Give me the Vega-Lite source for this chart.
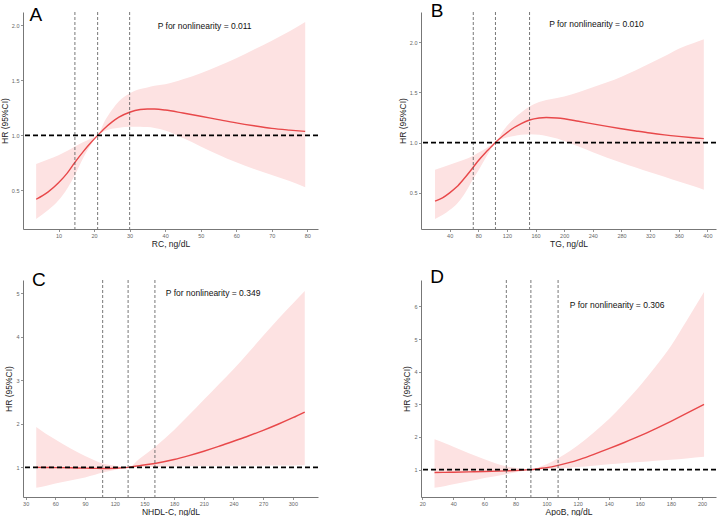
{
  "$schema": "https://vega.github.io/schema/vega-lite/v6.json",
  "padding": {"left": 0, "top": 2, "right": 0, "bottom": 0},
  "background": "white",
  "columns": 2,
  "spacing": {"row": 51, "column": 103},
  "bounds": "flush",
  "datasets": {
    "A": [
      {"x": 3.7, "hr": 0.42, "lo": 0.24, "hi": 0.74},
      {"x": 7, "hr": 0.485, "lo": 0.32, "hi": 0.78},
      {"x": 10, "hr": 0.57, "lo": 0.41, "hi": 0.82},
      {"x": 12.5, "hr": 0.66, "lo": 0.52, "hi": 0.86},
      {"x": 14.6, "hr": 0.755, "lo": 0.64, "hi": 0.9},
      {"x": 17, "hr": 0.855, "lo": 0.8, "hi": 0.94},
      {"x": 19, "hr": 0.93, "lo": 0.91, "hi": 0.97},
      {"x": 21, "hr": 1.0, "lo": 1.0, "hi": 1.0},
      {"x": 23, "hr": 1.065, "lo": 1.04, "hi": 1.13},
      {"x": 25, "hr": 1.12, "lo": 1.06, "hi": 1.23},
      {"x": 27, "hr": 1.165, "lo": 1.07, "hi": 1.31},
      {"x": 30, "hr": 1.21, "lo": 1.078, "hi": 1.38},
      {"x": 33, "hr": 1.235, "lo": 1.079, "hi": 1.42},
      {"x": 35, "hr": 1.24, "lo": 1.075, "hi": 1.435},
      {"x": 37, "hr": 1.239, "lo": 1.068, "hi": 1.45},
      {"x": 40, "hr": 1.23, "lo": 1.045, "hi": 1.465},
      {"x": 45, "hr": 1.203, "lo": 0.975, "hi": 1.51},
      {"x": 50, "hr": 1.174, "lo": 0.9, "hi": 1.565},
      {"x": 55, "hr": 1.143, "lo": 0.825, "hi": 1.63},
      {"x": 60, "hr": 1.113, "lo": 0.755, "hi": 1.7},
      {"x": 65, "hr": 1.087, "lo": 0.695, "hi": 1.78},
      {"x": 70, "hr": 1.064, "lo": 0.64, "hi": 1.86},
      {"x": 75, "hr": 1.048, "lo": 0.585, "hi": 1.945},
      {"x": 79.4, "hr": 1.036, "lo": 0.53, "hi": 2.03}
    ],
    "B": [
      {"x": 19.6, "hr": 0.417, "lo": 0.24, "hi": 0.73},
      {"x": 30, "hr": 0.45, "lo": 0.28, "hi": 0.755},
      {"x": 40, "hr": 0.5, "lo": 0.33, "hi": 0.78},
      {"x": 50, "hr": 0.56, "lo": 0.39, "hi": 0.805},
      {"x": 60, "hr": 0.64, "lo": 0.48, "hi": 0.83},
      {"x": 73, "hr": 0.755, "lo": 0.64, "hi": 0.87},
      {"x": 80, "hr": 0.82, "lo": 0.72, "hi": 0.9},
      {"x": 90, "hr": 0.9, "lo": 0.845, "hi": 0.94},
      {"x": 97, "hr": 0.95, "lo": 0.93, "hi": 0.97},
      {"x": 103.9, "hr": 1.0, "lo": 1.0, "hi": 1.0},
      {"x": 115, "hr": 1.07, "lo": 1.04, "hi": 1.12},
      {"x": 130, "hr": 1.15, "lo": 1.065, "hi": 1.24},
      {"x": 140, "hr": 1.19, "lo": 1.078, "hi": 1.3},
      {"x": 151.6, "hr": 1.225, "lo": 1.083, "hi": 1.36},
      {"x": 165, "hr": 1.245, "lo": 1.077, "hi": 1.405},
      {"x": 175, "hr": 1.25, "lo": 1.066, "hi": 1.425},
      {"x": 190, "hr": 1.245, "lo": 1.04, "hi": 1.445},
      {"x": 200, "hr": 1.237, "lo": 1.015, "hi": 1.46},
      {"x": 220, "hr": 1.212, "lo": 0.96, "hi": 1.5},
      {"x": 240, "hr": 1.186, "lo": 0.905, "hi": 1.55},
      {"x": 260, "hr": 1.161, "lo": 0.85, "hi": 1.6},
      {"x": 280, "hr": 1.138, "lo": 0.8, "hi": 1.656},
      {"x": 300, "hr": 1.116, "lo": 0.752, "hi": 1.72},
      {"x": 320, "hr": 1.095, "lo": 0.705, "hi": 1.79},
      {"x": 340, "hr": 1.077, "lo": 0.66, "hi": 1.86},
      {"x": 360, "hr": 1.062, "lo": 0.612, "hi": 1.935},
      {"x": 380, "hr": 1.049, "lo": 0.567, "hi": 1.99},
      {"x": 395, "hr": 1.04, "lo": 0.53, "hi": 2.03}
    ],
    "C": [
      {"x": 40.7, "hr": 1.0, "lo": 0.53, "hi": 1.925},
      {"x": 50, "hr": 0.998, "lo": 0.575, "hi": 1.78},
      {"x": 60, "hr": 0.995, "lo": 0.63, "hi": 1.64},
      {"x": 75, "hr": 0.99, "lo": 0.7, "hi": 1.44},
      {"x": 90, "hr": 0.982, "lo": 0.77, "hi": 1.26},
      {"x": 100, "hr": 0.978, "lo": 0.83, "hi": 1.16},
      {"x": 107.8, "hr": 0.975, "lo": 0.88, "hi": 1.09},
      {"x": 120, "hr": 0.98, "lo": 0.94, "hi": 1.04},
      {"x": 133.5, "hr": 1.0, "lo": 1.0, "hi": 1.0},
      {"x": 145, "hr": 1.04, "lo": 1.005, "hi": 1.2},
      {"x": 160.6, "hr": 1.09, "lo": 1.01, "hi": 1.47},
      {"x": 180, "hr": 1.18, "lo": 1.02, "hi": 1.86},
      {"x": 195, "hr": 1.27, "lo": 1.025, "hi": 2.2},
      {"x": 210, "hr": 1.37, "lo": 1.03, "hi": 2.55},
      {"x": 225, "hr": 1.48, "lo": 1.032, "hi": 2.9},
      {"x": 240, "hr": 1.6, "lo": 1.035, "hi": 3.25},
      {"x": 255, "hr": 1.72, "lo": 1.038, "hi": 3.63},
      {"x": 270, "hr": 1.85, "lo": 1.04, "hi": 4.02},
      {"x": 285, "hr": 1.99, "lo": 1.043, "hi": 4.4},
      {"x": 300, "hr": 2.14, "lo": 1.045, "hi": 4.76},
      {"x": 312, "hr": 2.27, "lo": 1.05, "hi": 5.05}
    ],
    "D": [
      {"x": 27.9, "hr": 0.91, "lo": 0.44, "hi": 1.93},
      {"x": 35, "hr": 0.915, "lo": 0.5, "hi": 1.8},
      {"x": 40, "hr": 0.92, "lo": 0.55, "hi": 1.7},
      {"x": 50, "hr": 0.93, "lo": 0.64, "hi": 1.5},
      {"x": 60, "hr": 0.94, "lo": 0.74, "hi": 1.32},
      {"x": 74, "hr": 0.96, "lo": 0.86, "hi": 1.1},
      {"x": 82, "hr": 0.975, "lo": 0.93, "hi": 1.04},
      {"x": 89.9, "hr": 1.0, "lo": 1.0, "hi": 1.0},
      {"x": 95, "hr": 1.03, "lo": 1.005, "hi": 1.07},
      {"x": 100, "hr": 1.06, "lo": 1.01, "hi": 1.16},
      {"x": 107.4, "hr": 1.13, "lo": 1.03, "hi": 1.35},
      {"x": 115, "hr": 1.22, "lo": 1.06, "hi": 1.57},
      {"x": 120, "hr": 1.29, "lo": 1.08, "hi": 1.74},
      {"x": 130, "hr": 1.46, "lo": 1.12, "hi": 2.12},
      {"x": 140, "hr": 1.64, "lo": 1.16, "hi": 2.54},
      {"x": 150, "hr": 1.83, "lo": 1.2, "hi": 3.03},
      {"x": 160, "hr": 2.03, "lo": 1.23, "hi": 3.56},
      {"x": 170, "hr": 2.25, "lo": 1.27, "hi": 4.15},
      {"x": 180, "hr": 2.48, "lo": 1.3, "hi": 4.79},
      {"x": 190, "hr": 2.72, "lo": 1.34, "hi": 5.55},
      {"x": 201.3, "hr": 3.0, "lo": 1.39, "hi": 6.44}
    ]
  },
  "concat": [
    {
      "width": 295, "height": 217,
      "data": {"name": "A"},
      "layer": [
        {"mark": {"type": "area", "color": "#fde2e2", "opacity": 1, "interpolate": "monotone"},
         "encoding": {
           "x": {"field": "x", "type": "quantitative", "title": "RC, ng/dL", "scale": {"domain": [0, 83], "nice": false, "zero": false}, "axis": {"values": [10, 20, 30, 40, 50, 60, 70, 80], "tickCount": 30}},
           "y": {"field": "lo", "type": "quantitative", "title": "HR (95%CI)", "scale": {"domain": [0.15, 2.12], "nice": false, "zero": false}, "axis": {"values": [0.5, 1, 1.5, 2], "format": ".1f", "tickCount": 30}},
           "y2": {"field": "hi"}}},
        {"mark": {"type": "line", "color": "#e8484a", "strokeWidth": 1.4, "interpolate": "monotone"},
         "encoding": {"x": {"field": "x", "type": "quantitative", "title": "RC, ng/dL"}, "y": {"field": "hr", "type": "quantitative", "title": "HR (95%CI)"}}},
        {"data": {"values": [{"x": 14.6}, {"x": 21}, {"x": 30}]},
         "mark": {"type": "rule", "color": "#555555", "strokeWidth": 0.8, "strokeDash": [3, 2]},
         "encoding": {"x": {"field": "x", "type": "quantitative", "title": "RC, ng/dL"}}},
        {"data": {"values": [{"hr": 1}]},
         "mark": {"type": "rule", "color": "#000000", "strokeWidth": 1.8, "strokeDash": [5, 3]},
         "encoding": {"y": {"field": "hr", "type": "quantitative", "title": "HR (95%CI)"}}},
        {"data": {"values": [{"label": "P for nonlinearity = 0.011"}]},
         "mark": {"type": "text", "fontSize": 8.5, "color": "#111111", "align": "center", "baseline": "middle"},
         "encoding": {"x": {"datum": 51.1, "type": "quantitative"}, "y": {"datum": 1.99, "type": "quantitative"}, "text": {"field": "label"}}},
        {"data": {"values": [{"label": "A"}]},
         "mark": {"type": "text", "fontSize": 19, "color": "#000000", "align": "left", "baseline": "alphabetic"},
         "encoding": {"x": {"datum": 1.8, "type": "quantitative"}, "y": {"datum": 2.04, "type": "quantitative"}, "text": {"field": "label"}}}
      ]
    },
    {
      "width": 295, "height": 217,
      "data": {"name": "B"},
      "layer": [
        {"mark": {"type": "area", "color": "#fde2e2", "opacity": 1, "interpolate": "monotone"},
         "encoding": {
           "x": {"field": "x", "type": "quantitative", "title": "TG, ng/dL", "scale": {"domain": [0, 412], "nice": false, "zero": false}, "axis": {"values": [40, 80, 120, 160, 200, 240, 280, 320, 360, 400], "tickCount": 30}},
           "y": {"field": "lo", "type": "quantitative", "title": "HR (95%CI)", "scale": {"domain": [0.14, 2.3], "nice": false, "zero": false}, "axis": {"values": [0.5, 1, 1.5, 2], "format": ".1f", "tickCount": 30}},
           "y2": {"field": "hi"}}},
        {"mark": {"type": "line", "color": "#e8484a", "strokeWidth": 1.4, "interpolate": "monotone"},
         "encoding": {"x": {"field": "x", "type": "quantitative", "title": "TG, ng/dL"}, "y": {"field": "hr", "type": "quantitative", "title": "HR (95%CI)"}}},
        {"data": {"values": [{"x": 73}, {"x": 104}, {"x": 151.6}]},
         "mark": {"type": "rule", "color": "#555555", "strokeWidth": 0.8, "strokeDash": [3, 2]},
         "encoding": {"x": {"field": "x", "type": "quantitative", "title": "TG, ng/dL"}}},
        {"data": {"values": [{"hr": 1}]},
         "mark": {"type": "rule", "color": "#000000", "strokeWidth": 1.8, "strokeDash": [5, 3]},
         "encoding": {"y": {"field": "hr", "type": "quantitative", "title": "HR (95%CI)"}}},
        {"data": {"values": [{"label": "P for nonlinearity = 0.010"}]},
         "mark": {"type": "text", "fontSize": 8.5, "color": "#111111", "align": "center", "baseline": "middle"},
         "encoding": {"x": {"datum": 245, "type": "quantitative"}, "y": {"datum": 2.18, "type": "quantitative"}, "text": {"field": "label"}}},
        {"data": {"values": [{"label": "B"}]},
         "mark": {"type": "text", "fontSize": 19, "color": "#000000", "align": "left", "baseline": "alphabetic"},
         "encoding": {"x": {"datum": 13.6, "type": "quantitative"}, "y": {"datum": 2.25, "type": "quantitative"}, "text": {"field": "label"}}}
      ]
    },
    {
      "width": 295, "height": 217,
      "data": {"name": "C"},
      "layer": [
        {"mark": {"type": "area", "color": "#fde2e2", "opacity": 1, "interpolate": "monotone"},
         "encoding": {
           "x": {"field": "x", "type": "quantitative", "title": "NHDL-C, ng/dL", "scale": {"domain": [27.3, 325.4], "nice": false, "zero": false}, "axis": {"values": [30, 60, 90, 120, 150, 180, 210, 240, 270, 300], "tickCount": 30}},
           "y": {"field": "lo", "type": "quantitative", "title": "HR (95%CI)", "scale": {"domain": [0.32, 5.3], "nice": false, "zero": false}, "axis": {"values": [1, 2, 3, 4, 5], "format": "d", "tickCount": 30}},
           "y2": {"field": "hi"}}},
        {"mark": {"type": "line", "color": "#e8484a", "strokeWidth": 1.4, "interpolate": "monotone"},
         "encoding": {"x": {"field": "x", "type": "quantitative", "title": "NHDL-C, ng/dL"}, "y": {"field": "hr", "type": "quantitative", "title": "HR (95%CI)"}}},
        {"data": {"values": [{"x": 107.8}, {"x": 133.5}, {"x": 160.6}]},
         "mark": {"type": "rule", "color": "#555555", "strokeWidth": 0.8, "strokeDash": [3, 2]},
         "encoding": {"x": {"field": "x", "type": "quantitative", "title": "NHDL-C, ng/dL"}}},
        {"data": {"values": [{"hr": 1}]},
         "mark": {"type": "rule", "color": "#000000", "strokeWidth": 1.8, "strokeDash": [5, 3]},
         "encoding": {"y": {"field": "hr", "type": "quantitative", "title": "HR (95%CI)"}}},
        {"data": {"values": [{"label": "P for nonlinearity = 0.349"}]},
         "mark": {"type": "text", "fontSize": 8.5, "color": "#111111", "align": "center", "baseline": "middle"},
         "encoding": {"x": {"datum": 219.4, "type": "quantitative"}, "y": {"datum": 5.0, "type": "quantitative"}, "text": {"field": "label"}}},
        {"data": {"values": [{"label": "C"}]},
         "mark": {"type": "text", "fontSize": 19, "color": "#000000", "align": "left", "baseline": "alphabetic"},
         "encoding": {"x": {"datum": 36.3, "type": "quantitative"}, "y": {"datum": 5.17, "type": "quantitative"}, "text": {"field": "label"}}}
      ]
    },
    {
      "width": 295, "height": 217,
      "data": {"name": "D"},
      "layer": [
        {"mark": {"type": "area", "color": "#fde2e2", "opacity": 1, "interpolate": "monotone"},
         "encoding": {
           "x": {"field": "x", "type": "quantitative", "title": "ApoB, ng/dL", "scale": {"domain": [19.2, 209], "nice": false, "zero": false}, "axis": {"values": [20, 40, 60, 80, 100, 120, 140, 160, 180, 200], "tickCount": 30}},
           "y": {"field": "lo", "type": "quantitative", "title": "HR (95%CI)", "scale": {"domain": [0.16, 6.81], "nice": false, "zero": false}, "axis": {"values": [1, 2, 3, 4, 5, 6], "format": "d", "tickCount": 30}},
           "y2": {"field": "hi"}}},
        {"mark": {"type": "line", "color": "#e8484a", "strokeWidth": 1.4, "interpolate": "monotone"},
         "encoding": {"x": {"field": "x", "type": "quantitative", "title": "ApoB, ng/dL"}, "y": {"field": "hr", "type": "quantitative", "title": "HR (95%CI)"}}},
        {"data": {"values": [{"x": 74.1}, {"x": 89.9}, {"x": 107.4}]},
         "mark": {"type": "rule", "color": "#555555", "strokeWidth": 0.8, "strokeDash": [3, 2]},
         "encoding": {"x": {"field": "x", "type": "quantitative", "title": "ApoB, ng/dL"}}},
        {"data": {"values": [{"hr": 1}]},
         "mark": {"type": "rule", "color": "#000000", "strokeWidth": 1.8, "strokeDash": [5, 3]},
         "encoding": {"y": {"field": "hr", "type": "quantitative", "title": "HR (95%CI)"}}},
        {"data": {"values": [{"label": "P for nonlinearity = 0.306"}]},
         "mark": {"type": "text", "fontSize": 8.5, "color": "#111111", "align": "center", "baseline": "middle"},
         "encoding": {"x": {"datum": 145.4, "type": "quantitative"}, "y": {"datum": 6.03, "type": "quantitative"}, "text": {"field": "label"}}},
        {"data": {"values": [{"label": "D"}]},
         "mark": {"type": "text", "fontSize": 19, "color": "#000000", "align": "left", "baseline": "alphabetic"},
         "encoding": {"x": {"datum": 25.1, "type": "quantitative"}, "y": {"datum": 6.72, "type": "quantitative"}, "text": {"field": "label"}}}
      ]
    }
  ],
  "config": {
    "font": "Liberation Sans",
    "view": {"stroke": null},
    "axis": {
      "grid": false,
      "domainColor": "#777777",
      "domainWidth": 1,
      "tickColor": "#777777",
      "tickSize": 2.5,
      "tickWidth": 0.8,
      "labelFontSize": 5.5,
      "labelColor": "#666666",
      "labelPadding": 1.5,
      "labelOverlap": false,
      "labelFlush": false,
      "titleFontSize": 8.5,
      "titleFontWeight": "normal",
      "titleColor": "#222222",
      "titlePadding": 2,
      "labelFont": "Liberation Sans",
      "titleFont": "Liberation Sans"
    },
    "axisX": {"titlePadding": 0.5}
  }
}
